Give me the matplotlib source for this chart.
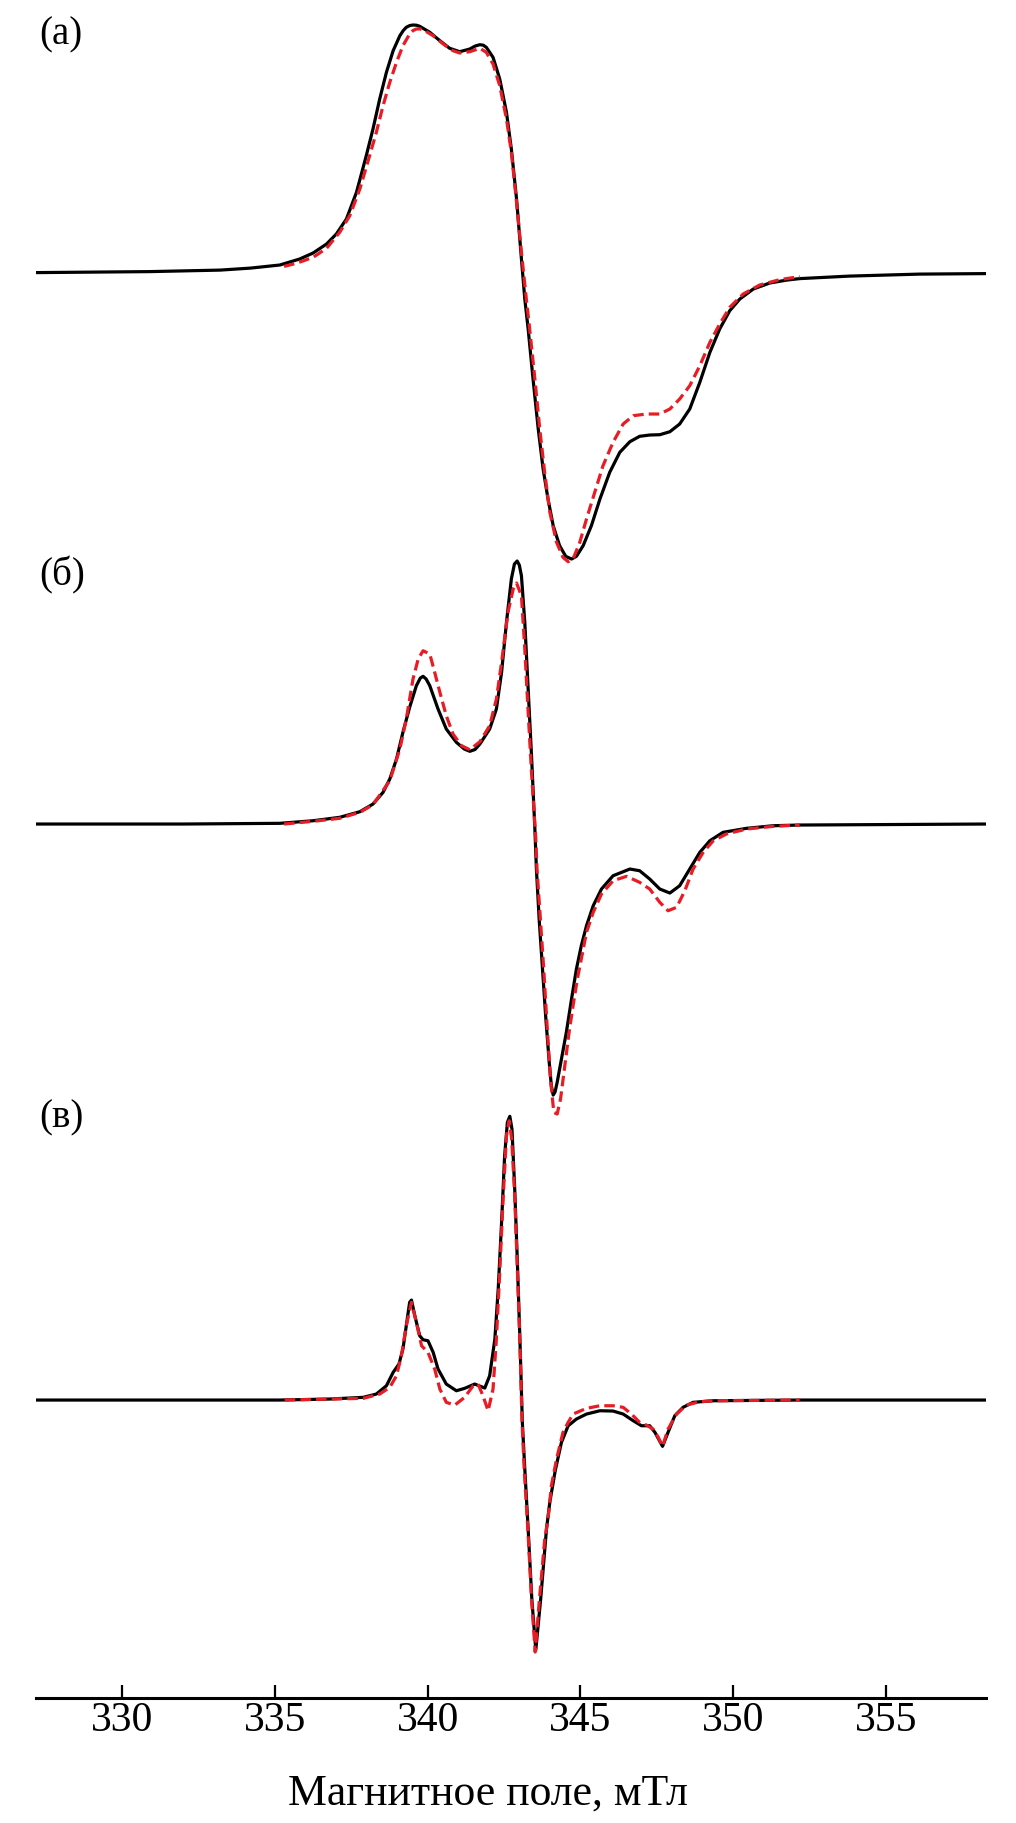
import matplotlib
matplotlib.use("Agg")
import matplotlib.pyplot as plt

plt.rcParams['font.family'] = ['Liberation Serif', 'DejaVu Serif']

# magnetic field (mT) and intensity (a.u.), black = experiment, red = simulation
a_exp_field = [327.17, 330.9, 333.2, 334.2, 335.16, 335.81, 336.25, 336.69, 337.01, 337.34,
               337.67, 337.99, 338.21, 338.43, 338.65, 338.87, 339.09, 339.20, 339.30, 339.41,
               339.52, 339.63, 339.74, 340.07, 340.40, 340.72, 341.05, 341.38, 341.55, 341.71,
               341.82, 341.92, 342.14, 342.36, 342.58, 342.74, 342.91, 343.07, 343.18, 343.29,
               343.45, 343.62, 343.78, 343.94, 344.11, 344.32, 344.52, 344.71, 344.87, 345.09,
               345.36, 345.64, 345.96, 346.29, 346.62, 346.94, 347.27, 347.60, 347.93, 348.25,
               348.58, 348.91, 349.24, 349.56, 349.89, 350.22, 350.66, 351.20, 351.75, 352.18,
               353.8, 356.1, 358.27]
a_exp_int = [0.0, 0.01, 0.025, 0.045, 0.076, 0.136, 0.196, 0.286, 0.386, 0.536,
             0.803, 1.169, 1.436, 1.736, 2.003, 2.219, 2.369, 2.42, 2.453, 2.47,
             2.476, 2.474, 2.463, 2.403, 2.319, 2.243, 2.209, 2.236, 2.265, 2.279,
             2.274, 2.253, 2.153, 1.936, 1.603, 1.236, 0.736, 0.136, -0.264, -0.564,
             -1.064, -1.564, -1.964, -2.264, -2.531, -2.731, -2.837, -2.864, -2.837, -2.731,
             -2.531, -2.264, -1.997, -1.797, -1.691, -1.637, -1.624, -1.621, -1.591, -1.514,
             -1.364, -1.097, -0.797, -0.564, -0.381, -0.264, -0.164, -0.104, -0.075, -0.06,
             -0.035, -0.015, -0.01]

a_sim_field = [335.30, 335.70, 336.25, 336.69, 337.12, 337.45, 337.78, 338.10, 338.32, 338.54,
               338.76, 338.98, 339.19, 339.41, 339.52, 339.63, 339.74, 339.85, 340.18, 340.51,
               340.83, 341.05, 341.38, 341.71, 341.92, 342.14, 342.36, 342.58, 342.74, 342.91,
               343.07, 343.23, 343.34, 343.51, 343.67, 343.83, 344.00, 344.22, 344.43, 344.60,
               344.76, 344.98, 345.20, 345.47, 345.74, 346.07, 346.40, 346.73, 347.16, 347.60,
               347.93, 348.25, 348.58, 348.91, 349.24, 349.56, 349.89, 350.33, 350.87, 351.53,
               352.18]
a_sim_int = [0.062, 0.093, 0.153, 0.243, 0.403, 0.569, 0.836, 1.169, 1.403, 1.669,
             1.903, 2.103, 2.269, 2.386, 2.42, 2.436, 2.437, 2.429, 2.369, 2.286,
             2.219, 2.196, 2.209, 2.243, 2.203, 2.086, 1.869, 1.536, 1.203, 0.703,
             0.203, -0.264, -0.564, -1.064, -1.564, -1.997, -2.397, -2.697, -2.847, -2.891,
             -2.864, -2.697, -2.464, -2.197, -1.931, -1.697, -1.514, -1.431, -1.414, -1.414,
             -1.364, -1.264, -1.131, -0.931, -0.697, -0.514, -0.347, -0.214, -0.124, -0.07,
             -0.04]

b_exp_field = [327.17, 332.0, 335.16, 336.25, 337.12, 337.78, 338.21, 338.54, 338.76, 338.98,
               339.19, 339.41, 339.63, 339.76, 339.85, 339.95, 340.07, 340.34, 340.61, 340.94,
               341.20, 341.38, 341.55, 341.71, 342.03, 342.25, 342.42, 342.58, 342.74, 342.84,
               342.93, 343.00, 343.07, 343.18, 343.29, 343.40, 343.51, 343.56, 343.65, 343.76,
               343.87, 343.98, 344.05, 344.11, 344.17, 344.24, 344.38, 344.54, 344.71, 344.87,
               345.03, 345.20, 345.42, 345.69, 346.07, 346.62, 346.94, 347.27, 347.60, 347.93,
               348.25, 348.58, 348.91, 349.24, 349.67, 350.44, 351.31, 352.18, 358.27]
b_exp_int = [0.0, 0.0, 0.007, 0.033, 0.067, 0.123, 0.20, 0.317, 0.45, 0.65,
             0.917, 1.167, 1.383, 1.46, 1.477, 1.45, 1.383, 1.15, 0.95, 0.817,
             0.75, 0.727, 0.745, 0.80, 0.95, 1.15, 1.517, 2.017, 2.45, 2.60,
             2.63, 2.59, 2.483, 2.017, 1.35, 0.683, -0.05, -0.45, -0.95, -1.45,
             -1.95, -2.383, -2.62, -2.71, -2.68, -2.583, -2.35, -2.083, -1.75, -1.45,
             -1.217, -1.017, -0.817, -0.65, -0.517, -0.45, -0.467, -0.55, -0.65, -0.69,
             -0.617, -0.45, -0.283, -0.167, -0.083, -0.043, -0.017, -0.01, 0.0]

b_sim_field = [335.30, 336.25, 337.12, 337.78, 338.21, 338.76, 339.09, 339.30, 339.52, 339.69,
               339.85, 340.07, 340.23, 340.40, 340.61, 340.83, 341.11, 341.38, 341.71, 342.03,
               342.25, 342.42, 342.63, 342.80, 342.91, 343.07, 343.18, 343.29, 343.40, 343.54,
               343.58, 343.69, 343.80, 343.91, 344.02, 344.13, 344.24, 344.35, 344.49, 344.63,
               344.76, 344.90, 345.03, 345.20, 345.42, 345.69, 346.07, 346.51, 346.94, 347.27,
               347.60, 347.87, 348.15, 348.42, 348.69, 349.02, 349.35, 349.78, 350.44, 351.31,
               352.18]
b_sim_int = [0.0, 0.027, 0.057, 0.117, 0.193, 0.433, 0.75, 1.05, 1.45, 1.65,
             1.733, 1.70, 1.517, 1.317, 1.083, 0.90, 0.783, 0.743, 0.823, 0.983,
             1.25, 1.617, 2.117, 2.35, 2.41, 2.283, 1.75, 1.117, 0.517, -0.15,
             -0.45, -0.95, -1.45, -2.017, -2.55, -2.883, -2.90, -2.75, -2.417, -2.083,
             -1.817, -1.55, -1.35, -1.083, -0.883, -0.70, -0.567, -0.523, -0.583, -0.65,
             -0.783, -0.867, -0.833, -0.667, -0.45, -0.283, -0.167, -0.10, -0.05, -0.023,
             -0.01]

c_exp_field = [327.17, 335.16, 336.79, 337.89, 338.32, 338.65, 338.87, 339.06, 339.19, 339.30,
               339.41, 339.47, 339.58, 339.74, 339.85, 340.01, 340.18, 340.34, 340.61, 340.94,
               341.21, 341.54, 341.87, 342.03, 342.20, 342.31, 342.42, 342.52, 342.61, 342.69,
               342.76, 342.85, 342.93, 343.02, 343.10, 343.18, 343.29, 343.41, 343.54, 343.70,
               343.89, 344.00, 344.18, 344.38, 344.60, 344.87, 345.20, 345.64, 346.07, 346.40,
               346.73, 347.00, 347.27, 347.44, 347.69, 347.87, 348.09, 348.36, 348.69, 349.35,
               352.18, 358.27]
c_exp_int = [0.0, 0.0, 0.01, 0.027, 0.06, 0.143, 0.277, 0.36, 0.51, 0.743,
             0.977, 1.0, 0.843, 0.643, 0.603, 0.593, 0.477, 0.31, 0.16, 0.093,
             0.117, 0.16, 0.12, 0.243, 0.61, 1.11, 1.777, 2.443, 2.777, 2.837,
             2.71, 2.11, 1.443, 0.61, -0.223, -0.69, -1.29, -1.99, -2.50, -1.99,
             -1.29, -1.02, -0.70, -0.423, -0.257, -0.19, -0.14, -0.107, -0.11, -0.14,
             -0.207, -0.257, -0.257, -0.323, -0.463, -0.323, -0.157, -0.073, -0.023, -0.007,
             0.0, 0.0]

c_sim_field = [335.32, 337.89, 338.43, 338.76, 338.98, 339.14, 339.30, 339.47, 339.63, 339.80,
               340.01, 340.23, 340.40, 340.61, 340.89, 341.21, 341.49, 341.65, 341.81, 341.98,
               342.14, 342.25, 342.36, 342.47, 342.58, 342.67, 342.75, 342.85, 342.94, 343.02,
               343.09, 343.16, 343.28, 343.40, 343.52, 343.66, 343.83, 343.94, 344.05, 344.22,
               344.43, 344.60, 344.76, 345.20, 345.64, 346.07, 346.40, 346.67, 346.94, 347.16,
               347.38, 347.55, 347.69, 347.87, 348.15, 348.47, 348.91, 349.35, 352.18]
c_sim_int = [0.0, 0.017, 0.06, 0.127, 0.243, 0.443, 0.743, 0.977, 0.777, 0.543,
             0.477, 0.31, 0.11, -0.023, -0.05, 0.027, 0.143, 0.16, 0.043, -0.107,
             0.11, 0.61, 1.277, 2.01, 2.643, 2.793, 2.61, 2.043, 1.277, 0.577,
             -0.223, -0.69, -1.29, -1.99, -2.52, -1.99, -1.4, -1.19, -0.857, -0.59,
             -0.323, -0.223, -0.14, -0.083, -0.057, -0.057, -0.073, -0.14, -0.223, -0.25,
             -0.29, -0.373, -0.463, -0.29, -0.14, -0.05, -0.017, -0.007, 0.0]

panel_names = ['(а)', '(б)', '(в)']
offsets = [14.254, 8.74, 2.98]
label_heights = [2.39, 2.50, 2.83]
ticks = [330, 335, 340, 345, 350, 355]

panels = [(a_exp_field, a_exp_int, a_sim_field, a_sim_int),
          (b_exp_field, b_exp_int, b_sim_field, b_sim_int),
          (c_exp_field, c_exp_int, c_sim_field, c_sim_int)]

fig = plt.figure(figsize=(10.16, 18.24), dpi=100)
ax = fig.add_axes([0.0352, 0.0685, 0.935, 0.9315])

for (xe, ye, xs, ys), off, name, lh in zip(panels, offsets, panel_names, label_heights):
    ax.plot(xe, [v + off for v in ye], color='black', lw=2.3,
            solid_joinstyle='round', solid_capstyle='round')
    ax.plot(xs, [v + off for v in ys], color='#e81c24', lw=2.3, dashes=(3.3, 1.6))
    ax.text(0.004, off + lh, name, transform=ax.get_yaxis_transform(),
            fontsize=28, ha='left', va='center')

ax.set_xlim(327.17, 358.27)
ax.set_ylim(0, 16.99)
for s in ['left', 'right', 'top']:
    ax.spines[s].set_visible(False)
ax.spines['bottom'].set_linewidth(2.2)
ax.set_yticks([])
ax.set_xticks(ticks)
ax.tick_params(axis='x', direction='in', length=9.5, width=1.6, labelsize=30, pad=2)
ax.set_xlabel('Магнитное поле, мТл', fontsize=31.5)
ax.xaxis.set_label_coords(0.476, -0.0436)

fig.savefig('out.png', dpi=100)
